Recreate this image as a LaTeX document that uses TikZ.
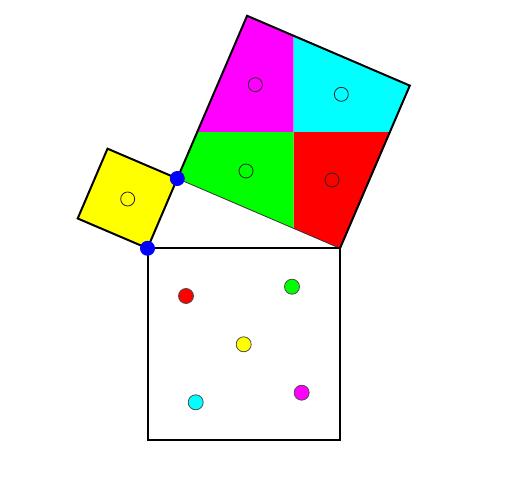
\documentclass[tikz,border=0pt]{standalone}
\usetikzlibrary{calc}
\definecolor{pmag}{RGB}{255,0,255}
\definecolor{pcyan}{RGB}{0,255,255}
\definecolor{pgreen}{RGB}{0,255,0}
\definecolor{pred}{RGB}{255,0,0}
\definecolor{pyellow}{RGB}{255,255,0}
\definecolor{pblue}{RGB}{0,0,255}
\tikzset{
  thickedge/.style={draw=black, line width=2pt, line join=miter},
  thinedge/.style={draw=black!80, line width=0.8pt},
  piece/.style={draw=none},
  opendot/.style={draw=black!85, line width=0.8pt},
  filldot/.style={draw=black!70, line width=0.8pt},
  vertexdot/.style={fill=pblue, draw=none}
}
\begin{document}
\begin{tikzpicture}[x=1pt,y=-1pt]
\useasboundingbox (0,0) rectangle (512,502);
\fill[white] (0,0) rectangle (512,502);
% triangle vertices
\coordinate (A) at (147.5,248.3);
\coordinate (B) at (340,248.3);
\coordinate (C) at (177.3,178.5);
% large square on CB
\coordinate (D) at ($(C)+(69.8,-162.7)$);
\coordinate (E) at ($(B)+(69.8,-162.7)$);
\coordinate (O) at ($(C)!0.5!(E)$);
\coordinate (Oh) at ($(O)+(10,0)$);
\coordinate (Ov) at ($(O)+(0,10)$);
\coordinate (PL) at (intersection of C--D and O--Oh);
\coordinate (PR) at (intersection of B--E and O--Oh);
\coordinate (PT) at (intersection of D--E and O--Ov);
\coordinate (PB) at (intersection of C--B and O--Ov);
% small square on AC
\coordinate (F) at ($(C)+(-69.8,-29.8)$);
\coordinate (G) at ($(A)+(-69.8,-29.8)$);
% pieces
\fill[pmag] (D) -- (PT) -- (O) -- (PL) -- cycle;
\fill[pcyan] (PT) -- (E) -- (PR) -- (O) -- cycle;
\fill[pred] (O) -- (PR) -- (B) -- (PB) -- cycle;
\fill[pgreen] (PL) -- (O) -- (PB) -- (C) -- cycle;
\draw[thinedge] (C) -- (B);
\draw[thickedge] (C) -- (D) -- (E) -- (B);
% small square
\filldraw[fill=pyellow, thickedge] (A) -- (C) -- (F) -- (G) -- cycle;
% big square
\draw[thickedge] (A) rectangle ($(B)+(0,192)$);
% open circles
\draw[opendot] (255.3,84.7) circle[radius=7pt];
\draw[opendot] (341.3,94.3) circle[radius=7pt];
\draw[opendot] (246,171) circle[radius=7pt];
\draw[opendot] (332,180) circle[radius=7pt];
\draw[opendot] (127.7,199) circle[radius=7pt];
% filled circles in big square
\filldraw[fill=pred, filldot] (186,296) circle[radius=7.5pt];
\filldraw[fill=pgreen, filldot] (292,286.7) circle[radius=7.5pt];
\filldraw[fill=pyellow, filldot] (243.7,344.3) circle[radius=7.5pt];
\filldraw[fill=pcyan, filldot] (195.7,402.3) circle[radius=7.5pt];
\filldraw[fill=pmag, filldot] (301.7,392.7) circle[radius=7.5pt];
% vertex dots
\fill[vertexdot] (A) circle[radius=7.5pt];
\fill[vertexdot] (C) circle[radius=7.5pt];
\end{tikzpicture}
\end{document}
